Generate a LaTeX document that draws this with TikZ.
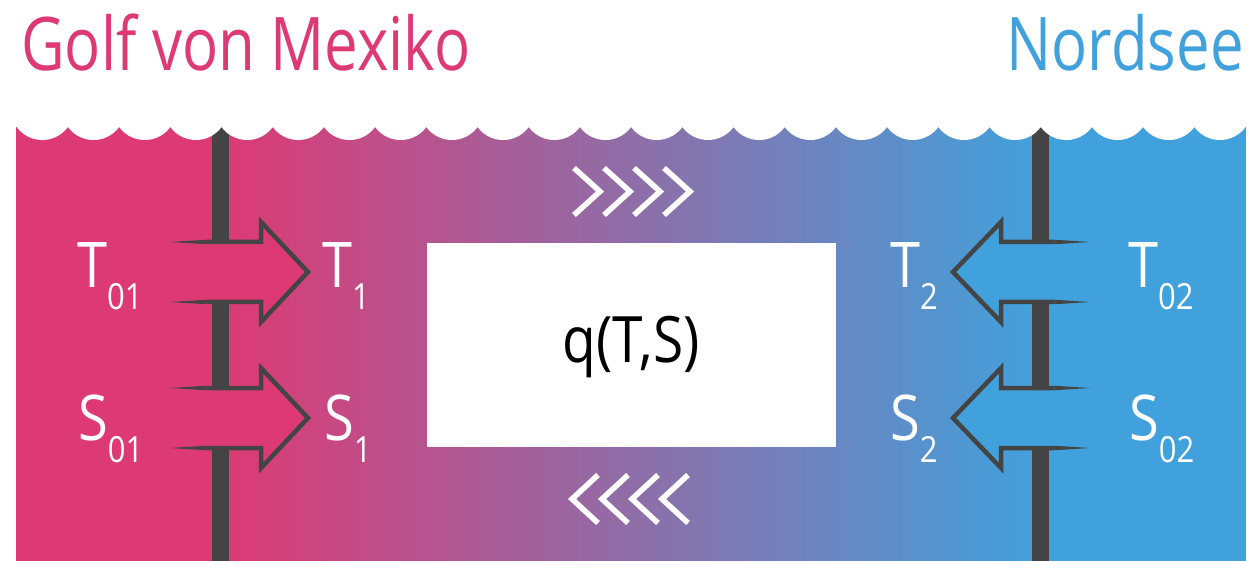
\documentclass[tikz,border=0pt]{standalone}
\usepackage{fontspec}
\setmainfont{Open Sans}[FakeStretch=0.86]
\newfontfamily\titlefont{Open Sans}[FakeStretch=0.81]
\usetikzlibrary{calc}
\definecolor{gulf}{RGB}{221,58,116}
\definecolor{north}{RGB}{65,161,220}
\definecolor{pole}{RGB}{68,68,68}
\tikzset{
  outline/.style={line width=4.5pt,draw=pole,line join=miter},
  chev/.style={line width=5.5pt,draw=white,line join=miter},
  lbl/.style={text=white,inner sep=0pt,anchor=base west,font=\fontsize{63}{63}\selectfont},
  title/.style={inner sep=0pt,anchor=base,font=\titlefont\fontsize{74}{74}\selectfont}
}
\newcommand{\sub}[1]{\raisebox{-22pt}{\fontsize{36}{36}\selectfont #1}}
% tail x, head base x, tip x, centre y, fill
\newcommand{\flowarrow}[5]{%
  \fill[#5] (#1,#4+30) -- (#2,#4+30) -- (#2,#4+50) -- (#3,#4) -- (#2,#4-50) -- (#2,#4-30) -- (#1,#4-30) -- cycle;
  \coordinate (mu) at ($(#1,#4+30)!.4!(#2,#4+30)$); \coordinate (ml) at ($(#1,#4-30)!.4!(#2,#4-30)$);
  \fill[pole] (#1,#4+30) -- ([yshift=2.25pt]mu) -- ([yshift=-2.25pt]mu) -- cycle;
  \fill[pole] (#1,#4-30) -- ([yshift=2.25pt]ml) -- ([yshift=-2.25pt]ml) -- cycle;
  \draw[outline] (mu) -- (#2,#4+30) -- (#2,#4+50) -- (#3,#4) -- (#2,#4-50) -- (#2,#4-30) -- (ml);
}

\begin{document}
\begin{tikzpicture}[x=1pt,y=1pt]
  \useasboundingbox (0,0) rectangle (1260,560);
  % water
  \fill[gulf] (16,-4) rectangle (222,433); \fill[north] (1040,-4) rectangle (1246,433);
  \shade[left color=gulf,right color=north] (221.5,-4) rectangle (1040.5,433);
  \fill[pole] (212,-4) rectangle (229,433); \fill[pole] (1032,-4) rectangle (1049,433);
  \fill[white] (16.7,433) foreach \i in {0,...,23} { -- ({16.7+51.2*\i},433) arc[start angle=216.1,end angle=323.9,radius=31.7] } -- (1250,433) -- (1250,440) -- (10,440) -- (10,433) -- cycle;
  % flow arrows
  \flowarrow{170}{261}{308}{288}{gulf} \flowarrow{170}{261}{308}{142}{gulf}
  \flowarrow{1090}{1001}{953}{288}{north} \flowarrow{1090}{1001}{953}{142}{north}
  % exchange box
  \node[fill=white,minimum width=409pt,minimum height=204pt,inner sep=0pt] (box) at (631,215) {};
  \node[inner sep=0pt,anchor=base,font=\fontsize{64}{64}\selectfont] (q) at (631,197) {q(T,S)};
  \foreach \x in {600,630,660,690} \draw[chev] (\x-26,392) -- (\x,368.5) -- (\x-26,345);
  \foreach \x in {572,602,632,662} \draw[chev] (\x+26,85) -- (\x,61) -- (\x+26,37);
  % labels
  \node[lbl] (t01) at (77,272) {T\sub{01}}; \node[lbl] (t1) at (322,272) {T\sub{1}};
  \node[lbl] (s01) at (78,120) {S\sub{01}}; \node[lbl] (s1) at (324,120) {S\sub{1}};
  \node[lbl] (t2) at (890,272) {T\sub{2}}; \node[lbl] (t02) at (1128,272) {T\sub{02}};
  \node[lbl] (s2) at (890,120) {S\sub{2}}; \node[lbl] (s02) at (1129,120) {S\sub{02}};
  \node[title,anchor=base west,text=gulf] (gulfname) at (21,489) {Golf von Mexiko};
  \node[title,anchor=base east,text=north] (northname) at (1244,489) {Nordsee};
\end{tikzpicture}
\end{document}
